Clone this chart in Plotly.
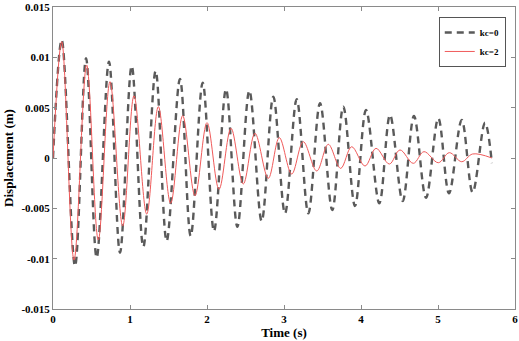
import plotly.graph_objects as go

# kc=0 : start, alternating extrema, end
t_kc0 = [0.0, 0.113, 0.286, 0.429, 0.567, 0.727, 0.870, 1.022, 1.173, 1.333, 1.476,
         1.649, 1.788, 1.944, 2.091, 2.247, 2.394, 2.55, 2.71, 2.861, 3.013, 3.165,
         3.316, 3.468, 3.627, 3.77, 3.922, 4.065, 4.238, 4.377, 4.541, 4.688, 4.844,
         5.004, 5.143, 5.308, 5.45, 5.61, 5.70]
d_kc0 = [0.0, 0.01173, -0.01074, 0.00991, -0.00991, 0.00957, -0.00941, 0.00915, -0.00882,
         0.00865, -0.00825, 0.00785, -0.00775, 0.00749, -0.00726, 0.00683, -0.00683,
         0.00669, -0.00626, 0.00610, -0.0055, 0.00583, -0.0055, 0.00544, -0.00517,
         0.0051, -0.00477, 0.00477, -0.0045, 0.00427, -0.00427, 0.00417, -0.00395,
         0.00395, -0.00351, 0.00378, -0.00341, 0.00351, -0.0005]

# kc=2
t_kc2 = [0.0, 0.113, 0.273, 0.437, 0.588, 0.74, 0.905, 1.052, 1.217, 1.368, 1.528,
         1.684, 1.844, 2.0, 2.156, 2.312, 2.471, 2.623, 2.796, 2.939, 3.1, 3.25,
         3.425, 3.575, 3.736, 3.879, 4.052, 4.195, 4.368, 4.506, 4.679, 4.818,
         5.004, 5.147, 5.308, 5.45, 5.70]
d_kc2 = [0.0, 0.01156, -0.01014, 0.00924, -0.00815, 0.00758, -0.00676, 0.00619, -0.00557,
         0.0051, -0.0045, 0.00421, -0.00375, 0.00351, -0.00311, 0.00295, -0.00258,
         0.00245, -0.00202, 0.00202, -0.00159, 0.00162, -0.00129, 0.00136, -0.00103,
         0.00112, -0.0008, 0.00096, -0.0006, 0.0008, -0.00053, 0.00063, -0.00047,
         0.00053, -0.00037, 0.0004, 0.0]

x_ticks = [0, 1, 2, 3, 4, 5, 6]
y_ticks = [0.015, 0.01, 0.005, 0, -0.005, -0.01, -0.015]
y_ticktext = ["0.015", "0.01", "0.005", "0", "-0.005", "-0.01", "-0.015"]

FONT = "Liberation Serif"

fig = go.Figure()
fig.add_trace(go.Scatter(x=t_kc0, y=d_kc0, mode="lines", name="<b>kc=0</b>",
                         line=dict(color="#5a5a5a", width=2.4, dash="7px,5px",
                                   shape="spline", smoothing=1.0)))
fig.add_trace(go.Scatter(x=t_kc2, y=d_kc2, mode="lines", name="<b>kc=2</b>",
                         line=dict(color="#f05a5a", width=1.0,
                                   shape="spline", smoothing=1.0)))

axis_common = dict(showline=True, linecolor="#8a8a8a", linewidth=1, mirror="ticks",
                   ticks="inside", ticklen=4, tickcolor="#8a8a8a", showgrid=False,
                   zeroline=False, automargin=False,
                   tickfont=dict(family=FONT, size=11, color="black"))

fig.update_xaxes(range=[0, 6], tickvals=x_ticks,
                 ticktext=[f"<b>{v}</b>" for v in x_ticks],
                 title=dict(text="<b>Time (s)</b>", font=dict(family=FONT, size=13, color="black"),
                            standoff=2),
                 **axis_common)
fig.update_yaxes(range=[-0.015, 0.015], tickvals=y_ticks,
                 ticktext=[f"<b>{s}</b>" for s in y_ticktext],
                 title=dict(text="<b>Displacement (m)</b>", font=dict(family=FONT, size=13, color="black"),
                            standoff=4),
                 **axis_common)

fig.update_layout(
    width=519, height=341,
    margin=dict(l=53, r=4, t=7, b=32, autoexpand=False),
    plot_bgcolor="white", paper_bgcolor="white",
    font=dict(family=FONT, color="black"),
    legend=dict(x=0.98, y=0.967, xanchor="right", yanchor="top",
                bgcolor="white", bordercolor="#555555", borderwidth=1,
                font=dict(family=FONT, size=9, color="black"),
                itemwidth=30, tracegroupgap=0),
    showlegend=True,
)

fig.write_html("out.html", config={"displayModeBar": False},
               post_script="document.body.style.margin='0';document.body.style.padding='0';")
